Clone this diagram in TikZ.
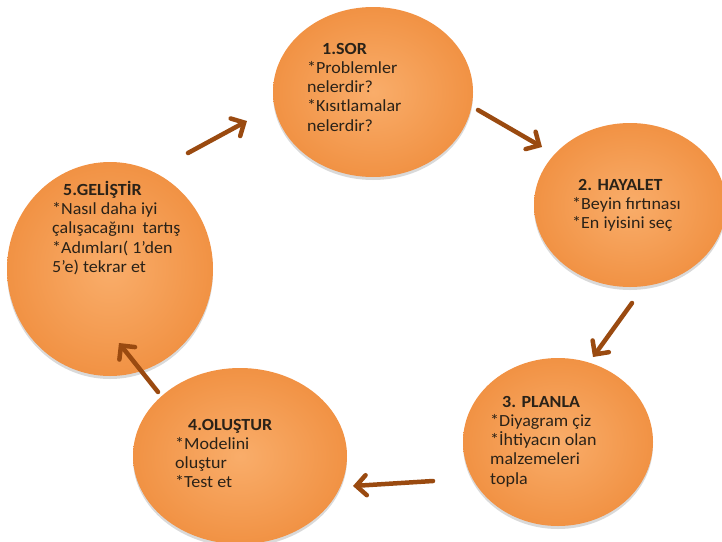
\documentclass[tikz,border=0pt]{standalone}
\usepackage{fontspec}
\setmainfont{Carlito}[FakeStretch=1.06]
\usetikzlibrary{shapes.geometric,arrows.meta,shadows}
\definecolor{orangeIn}{HTML}{F9AD6A}
\definecolor{orangeOut}{HTML}{F19244}
\definecolor{arrowBrown}{HTML}{9A4A10}
\definecolor{textDark}{HTML}{2A2218}
\tikzset{
  blob/.style={ellipse, inner color=orangeIn, outer color=orangeOut,
    drop shadow={shadow xshift=0pt, shadow yshift=-3pt, opacity=0.15, fill=black}},
  label/.style={anchor=north west, align=left, inner sep=0pt, text=textDark,
    font=\fontsize{17}{19.2}\selectfont},
  flow/.style={draw=arrowBrown, line width=4.5pt, line cap=round,
    -{Straight Barb[length=10pt,width=20pt,line cap=round]}}
}
\begin{document}
\begin{tikzpicture}[x=1pt,y=-1pt]
\useasboundingbox (0,0) rectangle (722,541);
% ellipses
\node[blob, minimum width=200pt, minimum height=170pt] (c1) at (373,92) {};
\node[blob, minimum width=192pt, minimum height=164pt] (c2) at (630,205) {};
\node[blob, minimum width=190pt, minimum height=168pt] (c3) at (558,442) {};
\node[blob, minimum width=214pt, minimum height=176pt] (c4) at (240,456) {};
\node[blob, minimum width=206pt, minimum height=214pt] (c5) at (110,269) {};
% texts
\node[label] (t1) at (307,43) {\hspace{15pt}\textbf{1.SOR}\\*Problemler\\nelerdir?\\*Kısıtlamalar\\nelerdir?};
\node[label] (t2) at (572,179) {\hspace{6pt}\textbf{2. HAYALET}\\*Beyin fırtınası\\*En iyisini seç};
\node[label] (t3) at (490,396) {\hspace{12pt}\textbf{3. PLANLA}\\*Diyagram çiz\\*İhtiyacın olan\\malzemeleri\\topla};
\node[label] (t4) at (175,419) {\hspace{13pt}\textbf{4.OLUŞTUR}\\*Modelini\\oluştur\\*Test et};
\node[label] (t5) at (52,181) {\hspace{11pt}\textbf{5.GELİŞTİR}\\*Nasıl daha iyi\\çalışacağını\ \ tartış\\*Adımları( 1’den\\5’e) tekrar et};
% arrow end points
\coordinate (a1s) at (188,153); \coordinate (a1e) at (247,121);
\coordinate (a2s) at (478,110); \coordinate (a2e) at (542,147);
\coordinate (a3s) at (632,303); \coordinate (a3e) at (593,357);
\coordinate (a4s) at (433,481); \coordinate (a4e) at (353,486);
\coordinate (a5s) at (158,392); \coordinate (a5e) at (119,343);
\draw[flow] (a1s) -- (a1e);
\draw[flow] (a2s) -- (a2e);
\draw[flow] (a3s) -- (a3e);
\draw[flow] (a4s) -- (a4e);
\draw[flow] (a5s) -- (a5e);
\end{tikzpicture}
\end{document}
